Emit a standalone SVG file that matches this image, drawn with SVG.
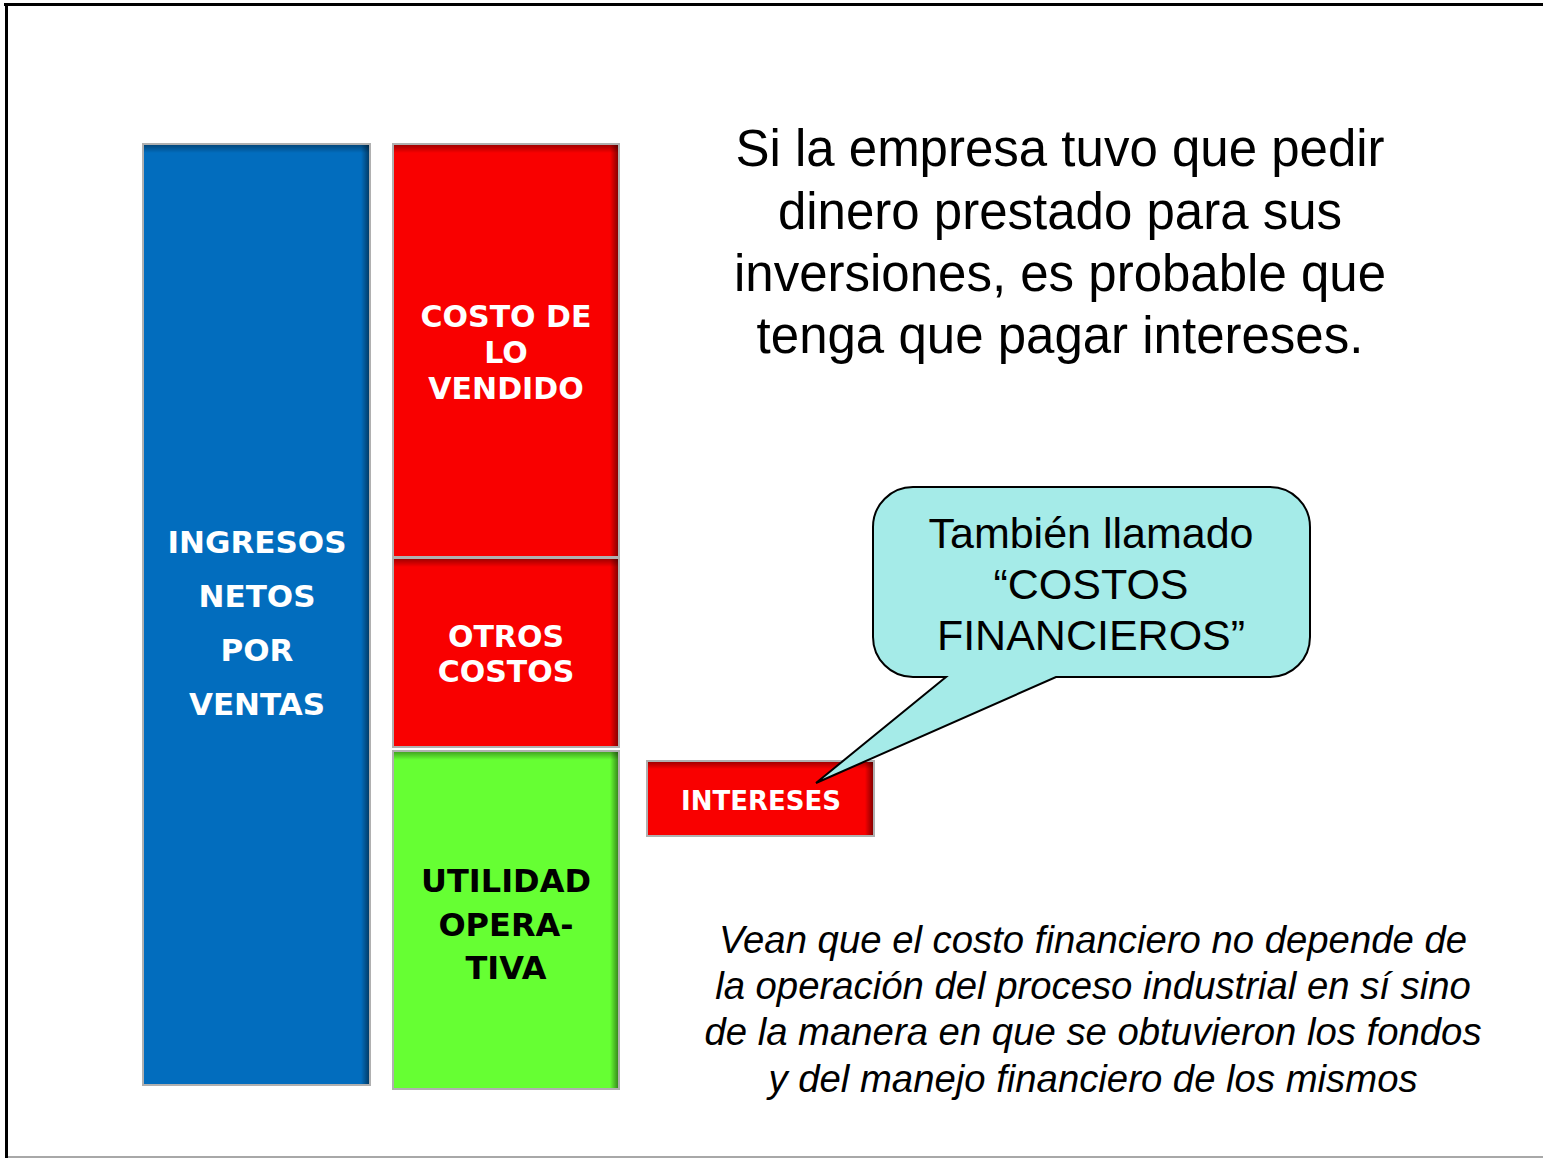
<svg xmlns="http://www.w3.org/2000/svg" width="1543" height="1158" viewBox="0 0 1543 1158">
<defs>
<linearGradient id="shTop" x1="0" y1="0" x2="0" y2="1">
<stop offset="0" stop-color="#000" stop-opacity="0.35"/>
<stop offset="1" stop-color="#000" stop-opacity="0"/>
</linearGradient>
<linearGradient id="shRight" x1="1" y1="0" x2="0" y2="0">
<stop offset="0" stop-color="#000" stop-opacity="0.45"/>
<stop offset="1" stop-color="#000" stop-opacity="0"/>
</linearGradient>
</defs>
<style>
.box{stroke:#b0b0b0;stroke-width:2}
.blue{fill:#026DBE}
.red{fill:#F90000}
.green{fill:#66FF33}
.lbl{font-family:"DejaVu Sans",Verdana,sans-serif;font-weight:bold;font-size:30px;text-anchor:middle}
.w{fill:#fff}
.k{fill:#000}
.big{font-family:"Liberation Sans",Arial,sans-serif;font-size:51px;text-anchor:middle;fill:#000}
.call{font-family:"Liberation Sans",Arial,sans-serif;font-size:43px;text-anchor:middle;fill:#000}
.it{font-family:"Liberation Sans",Arial,sans-serif;font-style:italic;font-size:38.3px;text-anchor:middle;fill:#000}
</style>
<rect width="1543" height="1158" fill="#fff"/>
<g id="frame">
<line x1="4" y1="4.5" x2="1543" y2="4.5" stroke="#000" stroke-width="3"/>
<line x1="6.5" y1="3" x2="6.5" y2="1158" stroke="#000" stroke-width="3"/>
<line x1="8" y1="1157" x2="1543" y2="1157" stroke="#a8a8a8" stroke-width="2"/>
</g>
<g id="ingresos">
<rect class="box blue" x="143" y="144" width="227" height="941"/>
<rect x="144" y="145" width="225" height="8" fill="url(#shTop)"/>
<rect x="361" y="145" width="8" height="939" fill="url(#shRight)"/>
<g style="font-size:31px">
<text class="lbl w" x="257" y="553" style="font-size:31px">INGRESOS</text>
<text class="lbl w" x="257" y="607" style="font-size:31px">NETOS</text>
<text class="lbl w" x="257" y="661" style="font-size:31px">POR</text>
<text class="lbl w" x="257" y="715" style="font-size:31px">VENTAS</text>
</g>
</g>
<g id="costo">
<rect class="box red" x="393" y="144" width="226" height="413"/>
<rect x="394" y="145" width="224" height="8" fill="url(#shTop)"/>
<rect x="610" y="145" width="8" height="411" fill="url(#shRight)"/>
<text class="lbl w" x="506" y="327">COSTO DE</text>
<text class="lbl w" x="506" y="363">LO</text>
<text class="lbl w" x="506" y="399">VENDIDO</text>
</g>
<g id="otros">
<rect class="box red" x="393" y="558" width="226" height="189"/>
<rect x="394" y="559" width="224" height="8" fill="url(#shTop)"/>
<rect x="610" y="559" width="8" height="187" fill="url(#shRight)"/>
<text class="lbl w" x="506" y="647">OTROS</text>
<text class="lbl w" x="506" y="682">COSTOS</text>
</g>
<g id="utilidad">
<rect class="box green" x="393" y="751" width="226" height="338"/>
<rect x="394" y="752" width="224" height="8" fill="url(#shTop)"/>
<rect x="610" y="752" width="8" height="336" fill="url(#shRight)"/>
<text class="lbl k" x="506" y="892" style="font-size:32px">UTILIDAD</text>
<text class="lbl k" x="506" y="936" style="font-size:32px">OPERA-</text>
<text class="lbl k" x="506" y="979" style="font-size:32px">TIVA</text>
</g>
<g id="intereses">
<rect class="box red" x="647" y="761" width="227" height="75"/>
<rect x="648" y="762" width="225" height="7" fill="url(#shTop)"/>
<rect x="865" y="762" width="8" height="73" fill="url(#shRight)"/>
<text class="lbl w" x="761" y="810" style="font-size:26px">INTERESES</text>
</g>
<g id="callout">
<path d="M913,487 H1270 A40,40 0 0 1 1310,527 V637 A40,40 0 0 1 1270,677 H1056 L816,783 L946,677 H913 A40,40 0 0 1 873,637 V527 A40,40 0 0 1 913,487 Z" fill="#A5EBE8" stroke="#000" stroke-width="2"/>
<text class="call" x="1091" y="548">También llamado</text>
<text class="call" x="1091" y="599">“COSTOS</text>
<text class="call" x="1091" y="650">FINANCIEROS”</text>
</g>
<g id="title">
<text class="big" x="1060" y="166">Si la empresa tuvo que pedir</text>
<text class="big" x="1060" y="229">dinero prestado para sus</text>
<text class="big" x="1060" y="291">inversiones, es probable que</text>
<text class="big" x="1060" y="353">tenga que pagar intereses.</text>
</g>
<g id="note">
<text class="it" x="1093" y="953">Vean que el costo financiero no depende de</text>
<text class="it" x="1093" y="999">la operación del proceso industrial en sí sino</text>
<text class="it" x="1093" y="1045">de la manera en que se obtuvieron los fondos</text>
<text class="it" x="1093" y="1092">y del manejo financiero de los mismos</text>
</g>
</svg>
